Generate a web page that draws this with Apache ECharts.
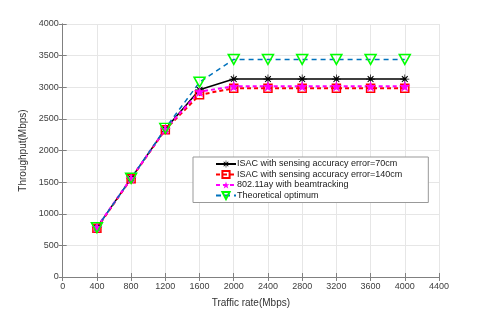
<!DOCTYPE html>
<html><head><meta charset="utf-8">
<script src="https://cdn.jsdelivr.net/npm/echarts@6/dist/echarts.min.js"></script>
<style>html,body{margin:0;padding:0;background:#fff}#c{width:485px;height:313px}</style>
</head><body><div id="c"></div>
<script>
var trafficRates = [400, 800, 1200, 1600, 2000, 2400, 2800, 3200, 3600, 4000];
var isac70 = [780, 1560, 2340, 2960, 3130, 3130, 3130, 3130, 3130, 3130];
var isac140 = [770, 1555, 2330, 2880, 2985, 2985, 2985, 2985, 2985, 2985];
var ay80211 = [785, 1560, 2335, 2930, 3015, 3015, 3015, 3015, 3015, 3015];
var optimum = [780, 1560, 2350, 3080, 3440, 3440, 3440, 3440, 3440, 3440];
var seriesNames = ['ISAC with sensing accuracy error=70cm','ISAC with sensing accuracy error=140cm','802.11ay with beamtracking','Theoretical optimum'];

function pairs(v){ return trafficRates.map(function(x,i){return [x, v[i]];}); }

var asterisk = 'path://M9.2,0 L10.8,0 L10.8,7.1 L15.8,2.8 L17.2,4.2 L12.9,9.2 L20,9.2 L20,10.8 L12.9,10.8 L17.2,15.8 L15.8,17.2 L10.8,12.9 L10.8,20 L9.2,20 L9.2,12.9 L4.2,17.2 L2.8,15.8 L7.1,10.8 L0,10.8 L0,9.2 L7.1,9.2 L2.8,4.2 L4.2,2.8 L9.2,7.1 Z';
var pent = 'path://M10,0 L12.35,6.9 L19.5,6.9 L13.8,11.2 L15.9,18.1 L10,14 L4.1,18.1 L6.2,11.2 L0.5,6.9 L7.65,6.9 Z';
var triDown = 'path://M0,0 L10,0 L5,8.66 Z';

var font = 'Liberation Sans, Arial, sans-serif';
var axisColor = '#808080';
var labelColor = '#404040';
var plain = function(v){ return String(v); };

var chart = echarts.init(document.getElementById('c'));
chart.setOption({
  animation: false,
  backgroundColor: '#fff',
  grid: {left: 62.7, right: 46, top: 24, bottom: 34.7},
  legend: {
    orient: 'vertical', left: 193, top: 157,
    padding: [2, 26, 2, 22],
    itemWidth: 20, itemHeight: 9, itemGap: 0.5,
    backgroundColor: '#fff', borderColor: '#999', borderWidth: 1,
    textStyle: {fontFamily: font, fontSize: 9, lineHeight: 10, color: '#1a1a1a', padding: [0,0,0,-4]},
    data: seriesNames
  },
  xAxis: [{
    type: 'value', min: 0, max: 4400, interval: 400,
    name: 'Traffic rate(Mbps)', nameLocation: 'middle', nameGap: 21,
    nameTextStyle: {fontFamily: font, fontSize: 10, color: '#333'},
    axisLine: {show: true, lineStyle: {color: axisColor}},
    axisTick: {show: true, inside: true, length: 4, lineStyle: {color: axisColor}},
    axisLabel: {fontFamily: font, fontSize: 9, color: labelColor, margin: 5, formatter: plain},
    splitLine: {show: true, lineStyle: {color: '#e6e6e6'}}
  },{
    type: 'value', min: 0, max: 4400, interval: 400, position: 'top',
    axisLine: {show: true, lineStyle: {color: axisColor}},
    axisTick: {show: true, inside: true, length: 4, lineStyle: {color: axisColor}},
    axisLabel: {show: false}, splitLine: {show: false}
  }],
  yAxis: [{
    type: 'value', min: 0, max: 4000, interval: 500,
    name: 'Throughput(Mbps)', nameLocation: 'middle', nameGap: 30,
    nameTextStyle: {fontFamily: font, fontSize: 10, color: '#333'},
    axisLine: {show: true, lineStyle: {color: axisColor}},
    axisTick: {show: true, inside: true, length: 4, lineStyle: {color: axisColor}},
    axisLabel: {fontFamily: font, fontSize: 9, color: labelColor, margin: 4, formatter: plain},
    splitLine: {show: true, lineStyle: {color: '#e6e6e6'}}
  },{
    type: 'value', min: 0, max: 4000, interval: 500, position: 'right',
    axisLine: {show: true, lineStyle: {color: axisColor}},
    axisTick: {show: true, inside: true, length: 4, lineStyle: {color: axisColor}},
    axisLabel: {show: false}, splitLine: {show: false}
  }],
  series: [{
    name: seriesNames[0], type: 'line', data: pairs(isac70),
    symbol: asterisk, symbolSize: 9,
    lineStyle: {color: '#000', width: 1.5, type: 'solid'},
    itemStyle: {color: '#000'}
  },{
    name: seriesNames[1], type: 'line', data: pairs(isac140),
    symbol: 'rect', symbolSize: 8,
    lineStyle: {color: '#ff0000', width: 2, type: [4, 3]},
    itemStyle: {color: 'rgba(255,255,255,0)', borderColor: '#ff0000', borderWidth: 1.5}
  },{
    name: seriesNames[2], type: 'line', data: pairs(ay80211),
    symbol: pent, symbolSize: 11,
    lineStyle: {color: '#ff00ff', width: 2, type: [4, 3]},
    itemStyle: {color: '#ff00ff'}
  },{
    name: seriesNames[3], type: 'line', data: pairs(optimum),
    symbol: triDown, symbolSize: [11, 10],
    lineStyle: {color: '#0072bd', width: 1.5, type: [5, 4]},
    itemStyle: {color: 'rgba(255,255,255,0)', borderColor: '#00ff00', borderWidth: 1.5}
  }]
});
</script></body></html>
